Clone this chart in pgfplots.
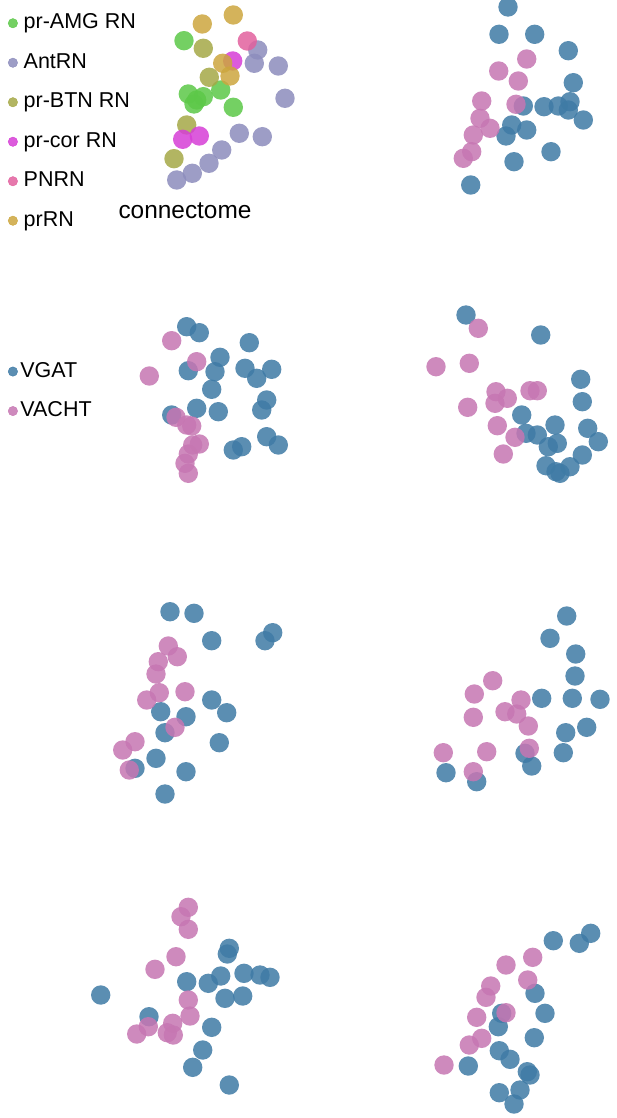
\documentclass[border=0pt]{standalone}
\usepackage{pgfplots}
\pgfplotsset{compat=1.18}
\usepackage{fontspec}
\setmainfont{Liberation Sans}

\definecolor{vgat}{RGB}{62,122,165}
\definecolor{vacht}{RGB}{198,118,178}
\definecolor{amg}{RGB}{92,200,72}
\definecolor{antrn}{RGB}{140,140,188}
\definecolor{btn}{RGB}{165,168,70}
\definecolor{cor}{RGB}{214,62,214}
\definecolor{pnrn}{RGB}{226,96,158}
\definecolor{prrn}{RGB}{204,166,62}

% every panel lives in one pixel-sized frame, y counted from the top
\pgfplotsset{
  frame/.style={
    width=617pt, height=1118pt, scale only axis,
    xmin=0, xmax=617, ymin=0, ymax=1118, y dir=reverse,
    hide axis,
    legend cell align=left,
    legend image code/.code={\fill[##1, fill opacity=0.85] (5pt,0pt) circle (4.7pt);
                             \path (0pt,0pt) (15.6pt,0pt);},
    legend style={draw=none, fill=none, inner sep=0pt, outer sep=0pt,
      font=\fontsize{21.5}{24}\selectfont, row sep=19pt,
      nodes={inner sep=0pt, text height=16pt, text depth=4.5pt}},
  },
  dot/.style={only marks, color=#1, mark=*, mark size=9.7pt,
    mark options={fill=#1, fill opacity=0.85, draw opacity=0}},
}

\begin{document}
\begin{tikzpicture}

% connectome panel
\begin{axis}[frame, name=frame, legend style={at={(axis cs:7.7,13)}, anchor=north west}]
\addplot[dot=amg] coordinates {(184,40.7) (220.7,90) (188.3,94) (203.3,96.7) (196.7,100) (194,104) (233.3,107.3)};
\addlegendentry{pr-AMG RN}
\addplot[dot=antrn] coordinates {(257.7,50) (254.3,63.3) (278.3,66) (285,98.3) (239.3,133.3) (262.3,136.7) (221.7,150) (209,163.3) (192.3,173.3) (176.7,180)};
\addlegendentry{AntRN}
\addplot[dot=btn] coordinates {(203.3,48.3) (209.3,77.3) (186.7,125) (174,158.7)};
\addlegendentry{pr-BTN RN}
\addplot[dot=cor] coordinates {(232.7,61) (182.7,139.3) (199.3,136)};
\addlegendentry{pr-cor RN}
\addplot[dot=pnrn] coordinates {(247.3,41)};
\addlegendentry{PNRN}
\addplot[dot=prrn] coordinates {(202.3,24) (233.3,15) (222.7,63.3) (230,76)};
\addlegendentry{prRN}
\node[font=\fontsize{24.4}{28}\selectfont] at (axis cs:185,211) {connectome};
\end{axis}

% VGAT / VACHT panels
\begin{axis}[frame, legend image code/.code={\fill[#1, fill opacity=0.85] (5pt,0pt) circle (4.7pt);
                             \path (0pt,0pt) (12.3pt,0pt);},
  legend style={at={(axis cs:7.7,361.3)}, anchor=north west}]
\addplot[dot=vgat] coordinates {
  (508,7) (499,34.3) (534.7,34.3) (568.3,50.7) (573.3,82.7) (523.3,106) (544,106.7) (558.3,106)
  (570,101.7) (568.3,110) (583.3,120) (511.7,125) (526.7,130) (506,136) (551,151.7) (514,161.7) (470.7,185)};
\addlegendentry{VGAT}
\addplot[dot=vacht] coordinates {
  (526.7,59) (498.7,71) (518.3,81) (481.7,101) (516,104.3) (480,118.3) (490,128.3) (473.3,135)
  (471.7,151.7) (463.3,158.3)};
\addlegendentry{VACHT}
% row 2 left
\addplot[dot=vgat, forget plot] coordinates {
  (186.7,326.7) (199.3,332.7) (249.3,342.7) (220,357.3) (188.3,370.7) (215,371.7) (245,368.3) (256.7,378.3)
  (271.7,369.3) (211.7,389.3) (266.7,400) (261.7,410) (196.7,408.3) (218.3,411.7) (171.7,415)
  (266.7,436.7) (278.3,445) (233.3,450) (241.7,446.7)};
\addplot[dot=vacht, forget plot] coordinates {
  (171.7,340.7) (196.7,361.7) (149.3,376) (176,417.3) (186.7,425) (191.7,426) (192.7,445) (199.3,444)
  (188.3,454) (185,463.3) (188.3,473.3)};
% row 2 right
\addplot[dot=vgat, forget plot] coordinates {
  (466,315) (540.7,335) (580.7,379.3) (582.3,401.7) (521.7,415) (555,425) (587.7,428.3) (598.3,441.7)
  (526,433.3) (537.3,435) (557.3,443.3) (548.3,446.7) (582.3,455) (570,466.7) (556,471.7) (546,465.7) (560,473.3)};
\addplot[dot=vacht, forget plot] coordinates {
  (478.3,328.3) (436,366.7) (469.3,363.3) (496,391.7) (507.3,398.3) (495,403.3) (530,390.7) (537.3,390.7)
  (467.7,407.3) (497.3,425.7) (515,437.3) (503.3,454)};
% row 3 left
\addplot[dot=vgat, forget plot] coordinates {
  (170,611.7) (194,613.3) (211.7,640.7) (265,640.7) (272.7,632.7) (211.7,700) (226.7,712.7) (160.7,711.7)
  (186,716.7) (165,732.7) (219.3,742.7) (156,758.3) (135,768.3) (186,771.7) (165,794)};
\addplot[dot=vacht, forget plot] coordinates {
  (168.3,646) (177.3,656.7) (158.3,661.7) (156,674) (159.3,692.7) (146.7,700) (185,691.7) (175,727.3)
  (135,741.7) (122.7,750) (129.3,770)};
% row 3 right
\addplot[dot=vgat, forget plot] coordinates {
  (566.7,616) (550,638.3) (575.7,654) (575,676) (541.7,698.3) (572.3,698.3) (600,699.3) (586.7,727.3)
  (565.7,732.7) (563.3,752.7) (525,753.3) (531.7,766) (446,772.7) (476.7,781.7)};
\addplot[dot=vacht, forget plot] coordinates {
  (492.7,680.7) (474.3,694) (521,700) (505,711.7) (516.7,714) (473.3,717.3) (528.3,726) (443.3,752.7)
  (486.7,751.7) (529.3,748.3) (473.3,771.7)};
% row 4 left
\addplot[dot=vgat, forget plot] coordinates {
  (229.3,948.3) (227.3,954) (100.7,995) (186.7,981.7) (208.3,983.3) (220.7,976) (244,973.3) (260,975)
  (270,977.3) (225,998.3) (242.7,996) (149,1016.7) (211.7,1027.3) (202.7,1050) (192.7,1067.3) (229.3,1085)};
\addplot[dot=vacht, forget plot] coordinates {
  (188.3,907.3) (181,916.7) (188.3,929.3) (176,956.7) (155,969.3) (188.3,1000) (190,1016) (148.3,1026.7)
  (136.7,1034) (172.7,1023.3) (167.3,1032.7) (173.3,1035)};
% row 4 right
\addplot[dot=vgat, forget plot] coordinates {
  (590.7,933.3) (579.3,943.3) (553.3,940.7) (535,993.3) (501.7,1013.3) (545,1013.3) (498.3,1026.7)
  (534.3,1037.7) (499.3,1050.7) (510,1059.3) (468.3,1066) (527.3,1071.7) (530,1075) (520,1090)
  (499.3,1092.7) (514,1104)};
\addplot[dot=vacht, forget plot] coordinates {
  (532.7,957.3) (506,965) (490.7,986) (527.7,980) (486,997.3) (506,1012.7) (476.7,1017.3) (481.7,1038.3)
  (469.3,1045) (444,1065)};
\end{axis}

% the page is exactly the frame
\pgfresetboundingbox
\path (frame.south west) rectangle (frame.north east);
\end{tikzpicture}
\end{document}
